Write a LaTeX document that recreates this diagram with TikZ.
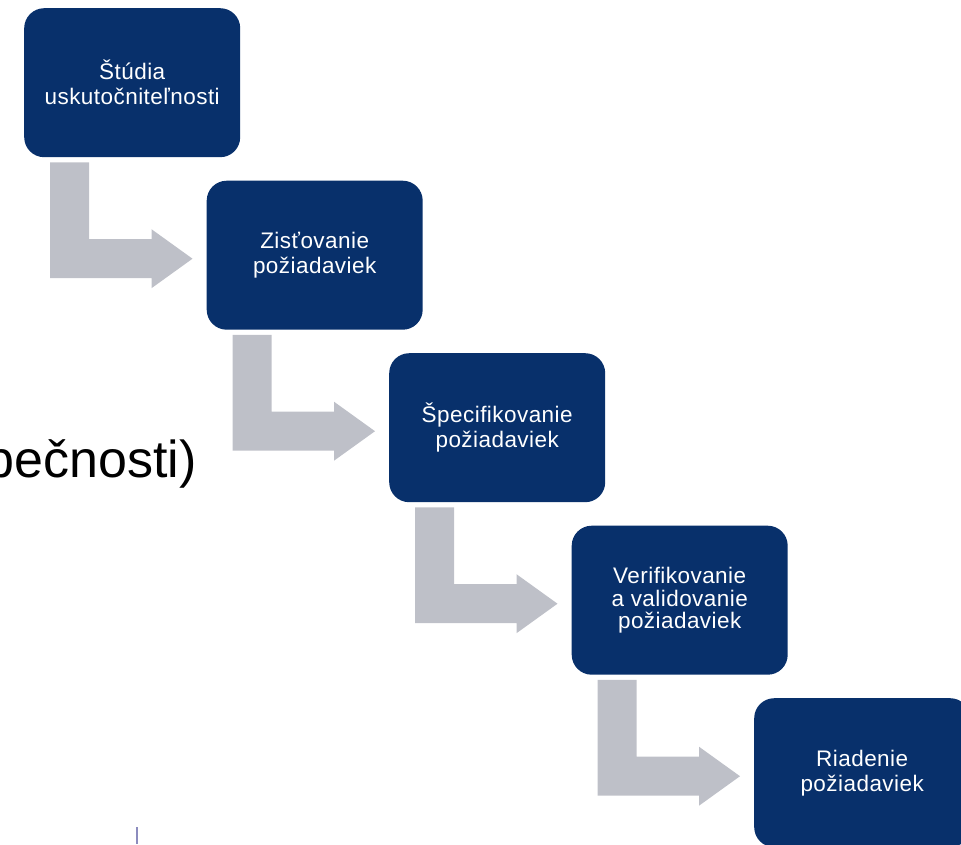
\documentclass[tikz,border=0pt]{standalone}
\usepackage{fontspec}
\setmainfont{Liberation Sans}
\newfontfamily\boxfont{Liberation Sans}[LetterSpace=2]
\newfontfamily\bigfont{Liberation Sans}
\usetikzlibrary{calc}
\definecolor{stepnavy}{RGB}{8,48,107}
\definecolor{flowgray}{RGB}{190,192,200}
\definecolor{tickline}{RGB}{140,140,190}
\begin{document}
\begin{tikzpicture}[x=1pt,y=-1pt,
  stagebox/.style={fill=stepnavy, rounded corners=20pt, minimum width=216pt,
    minimum height=149pt, inner sep=0pt, align=center, text=white,
    font=\boxfont\fontsize{22.5}{25}\selectfont, anchor=north west},
  bendarrow/.style={fill=flowgray, draw=none}]
\useasboundingbox (0,0) rectangle (961,844);
\clip (0,0) rectangle (961,844);

% partial heading text on the left
\node[anchor=base east, inner sep=0pt, font=\bigfont\fontsize{52}{60}\selectfont] (tail) at (197,477) {pečnosti)};

% the five stages
\node[stagebox] (b1) at (24,8)     {Štúdia\\uskutočniteľnosti};
\node[stagebox] (b2) at (206.5,180.5) {Zisťovanie\\požiadaviek};
\node[stagebox] (b3) at (389,353)  {Špecifikovanie\\požiadaviek};
\node[stagebox, font=\boxfont\fontsize{22.5}{22.5}\selectfont] (b4) at (571.5,525.5) {Verifikovanie\\a validovanie\\požiadaviek};
\node[stagebox] (b5) at (754,698)  {Riadenie\\požiadaviek};

% bent arrows between consecutive stages
\foreach \a/\b in {b1/b2,b2/b3,b3/b4,b4/b5}{
  \fill[bendarrow] let \p1=(\a.south west), \p2=(\b.west) in
    (\x1+26pt,\y1-5pt) -- (\x1+65pt,\y1-5pt) -- (\x1+65pt,\y2+16pt)
    -- (\x2-55pt,\y2+16pt) -- (\x2-55pt,\y2+26pt) -- (\x2-14pt,\y2-3.5pt)
    -- (\x2-55pt,\y2-33pt) -- (\x2-55pt,\y2-23pt) -- (\x1+26pt,\y2-23pt) -- cycle;
}

% small tick at the bottom edge
\coordinate (tickA) at (137,827);
\coordinate (tickB) at (137,844);
\draw[tickline, line width=1.2pt] (tickA) -- (tickB);
\end{tikzpicture}
\end{document}
